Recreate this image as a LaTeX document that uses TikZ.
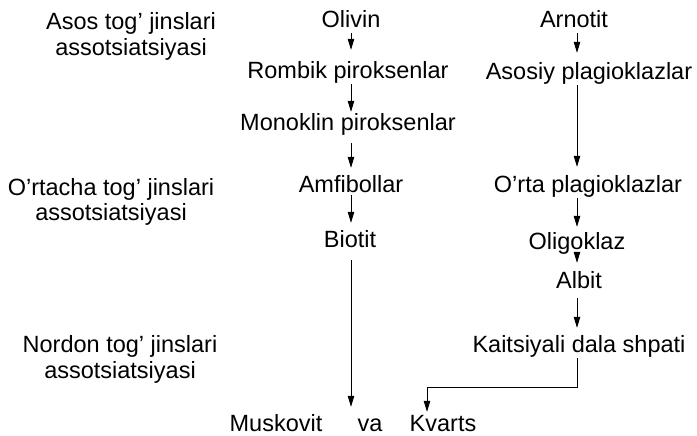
\documentclass[tikz,border=0pt]{standalone}
\usepackage{fontspec}
\setmainfont{Liberation Sans}
\usetikzlibrary{arrows.meta}
\begin{document}
\begin{tikzpicture}[x=1pt,y=-1pt,
  lbl/.style={anchor=base,inner sep=0pt,text height=17pt,text depth=5pt,font=\fontsize{23.5}{26}\selectfont},
  botlbl/.style={lbl,text depth=0pt},
  arr/.style={draw=black,line width=0.8pt,-{Triangle[length=11pt,width=6.5pt]}},
  ln/.style={draw=black,line width=0.8pt}]
\useasboundingbox[fill=white] (0,0) rectangle (697,436);
\coordinate (cA) at (351,0);
\coordinate (cB) at (577,0);
% left labels
\node[lbl] (asosA) at (131,30) {Asos tog' jinslari};
\node[lbl] (asosB) at (131,56) {assotsiatsiyasi};
\node[lbl] (ortA) at (111,195) {O'rtacha tog' jinslari};
\node[lbl] (ortB) at (111,220) {assotsiatsiyasi};
\node[lbl] (norA) at (120,352) {Nordon tog' jinslari};
\node[lbl] (norB) at (120,378) {assotsiatsiyasi};
% centre column
\node[lbl] (olivin) at (351,28) {Olivin};
\node[lbl] (rombik) at (348,79) {Rombik piroksenlar};
\node[lbl] (monoklin) at (348,131) {Monoklin piroksenlar};
\node[lbl] (amfibol) at (351,193) {Amfibollar};
\node[lbl] (biotit) at (350,247) {Biotit};
% right column
\node[lbl] (arnotit) at (574,28) {Arnotit};
\node[lbl] (asosiy) at (589,80) {Asosiy plagioklazlar};
\node[lbl] (orta) at (588,192) {O'rta plagioklazlar};
\node[lbl] (oligo) at (577,249) {Oligoklaz};
\node[lbl] (albit) at (579,288) {Albit};
\node[lbl] (kait) at (579,352) {Kaitsiyali dala shpati};
% bottom
\node[botlbl] (musk) at (276,431) {Muskovit};
\node[botlbl] (va) at (370,431) {va};
\node[botlbl] (kvarts) at (443,431) {Kvarts};
% centre arrows
\draw[arr,shorten >=12pt] (olivin.south -| cA) -- (rombik.north -| cA);
\draw[arr,shorten >=2pt] (rombik.south -| cA) -- (monoklin.north -| cA);
\draw[arr,shorten <=7pt,shorten >=8pt] (monoklin.south -| cA) -- (amfibol.north -| cA);
\draw[arr,shorten <=-3pt,shorten >=7pt] (amfibol.south -| cA) -- (biotit.north -| cA);
\draw[arr,shorten <=8pt,shorten >=7pt] (biotit.south -| cA) -- (musk.north -| cA);
% right arrows
\draw[arr,shorten >=10pt] (arnotit.south -| cB) -- (asosiy.north -| cB);
\draw[arr,shorten >=8pt] (asosiy.south -| cB) -- (orta.north -| cB);
\draw[arr,shorten <=1pt,shorten >=5pt] (orta.south -| cB) -- (oligo.north -| cB);
\draw[arr,shorten >=8pt] (oligo.south -| cB) -- (albit.north -| cB);
\draw[arr,shorten <=5pt,shorten >=7pt] (albit.south -| cB) -- (kait.north -| cB);
\draw[arr,shorten <=1pt,shorten >=2pt] (kait.south -| cB) -- ++(0,30) -| ([xshift=-16pt]kvarts.north);
\end{tikzpicture}
\end{document}
